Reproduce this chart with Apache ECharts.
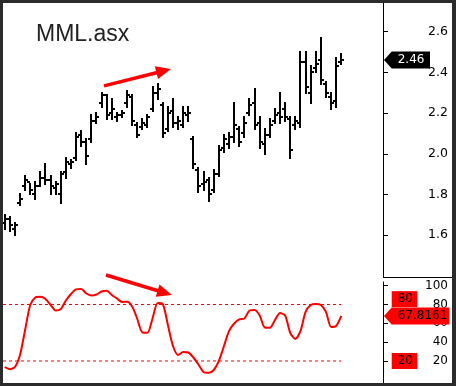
<!DOCTYPE html>
<html>
<head>
<meta charset="utf-8">
<script src="https://cdn.jsdelivr.net/npm/echarts@6/dist/echarts.min.js"></script>
<style>
html,body{margin:0;padding:0;background:#2b2b2b;width:456px;height:386px;overflow:hidden;}
#chart{position:absolute;left:3px;top:3px;width:449px;height:380px;background:#ffffff;}
</style>
</head>
<body>
<div id="chart"></div>
<script>
// ---- data ----
var ticker = 'MML.asx';
var opens  = [1.66,1.68,1.63,1.76,1.84,1.86,1.80,1.84,1.88,1.87,1.83,1.80,1.91,1.95,1.98,2.09,2.06,2.07,2.16,2.25,2.29,2.20,2.18,2.19,2.25,2.28,2.14,2.13,2.14,2.22,2.30,2.24,2.12,2.21,2.15,2.14,2.19,2.07,1.92,1.85,1.87,1.82,1.90,2.03,2.05,2.08,2.12,2.10,2.20,2.25,2.15,2.05,2.09,2.16,2.20,2.22,2.17,2.14,2.15,2.45,2.30,2.42,2.46,2.34,2.28,2.26,2.45];
var highs  = [1.70,1.69,1.66,1.80,1.89,1.85,1.86,1.91,1.95,1.89,1.86,1.91,1.98,1.97,2.10,2.11,2.07,2.19,2.20,2.30,2.29,2.27,2.20,2.21,2.31,2.29,2.15,2.17,2.19,2.33,2.34,2.25,2.23,2.27,2.18,2.23,2.23,2.08,1.93,1.91,1.88,1.92,2.04,2.09,2.10,2.25,2.13,2.18,2.27,2.32,2.18,2.12,2.17,2.22,2.30,2.25,2.18,2.18,2.50,2.50,2.43,2.50,2.57,2.35,2.30,2.47,2.49];
var lows   = [1.63,1.62,1.60,1.75,1.82,1.80,1.78,1.84,1.85,1.80,1.80,1.76,1.88,1.93,1.97,2.04,1.95,2.06,2.15,2.23,2.17,2.17,2.16,2.18,2.23,2.14,2.08,2.12,2.13,2.21,2.27,2.08,2.11,2.13,2.12,2.13,2.16,1.93,1.81,1.82,1.77,1.81,1.89,2.01,2.03,2.06,2.04,2.08,2.19,2.12,2.03,2.00,2.08,2.15,2.15,2.16,1.98,2.12,2.13,2.30,2.25,2.40,2.34,2.28,2.22,2.23,2.44];
var closes = [1.68,1.65,1.65,1.78,1.87,1.82,1.84,1.88,1.87,1.84,1.85,1.90,1.96,1.96,2.08,2.06,1.99,2.16,2.18,2.29,2.19,2.22,2.19,2.20,2.29,2.16,2.09,2.15,2.18,2.30,2.32,2.10,2.20,2.15,2.16,2.20,2.20,1.95,1.84,1.86,1.80,1.90,2.02,2.07,2.08,2.14,2.06,2.15,2.24,2.14,2.06,2.09,2.14,2.19,2.18,2.18,2.02,2.16,2.45,2.33,2.40,2.44,2.36,2.30,2.25,2.43,2.46];
var oscValues = [13.6,11.2,13.6,26.4,52.9,79.5,87.5,88.3,85.9,79.5,73.6,75.2,84.3,91.2,96.0,96.5,91.7,89.6,90.6,93.8,94.7,90.1,86.4,82.7,83.0,77.9,64.6,50.3,50.1,65.4,81.6,80.6,58.2,35.9,26.4,29.5,29.0,23.7,16.3,8.3,7.5,10.4,20.0,35.9,51.9,59.8,64.1,65.1,73.6,74.2,68.3,55.6,55.4,63.5,71.0,68.3,49.7,43.4,51.9,72.1,79.5,80.6,79.5,72.1,56.1,57.2,67.8161];
var lastPrice = 2.46;
var lastOsc = 67.8161;
var priceTicks = [1.6,1.8,2.0,2.2,2.4,2.6];
var oscTicks = [20,40,60,80,100];
var oscLevels = [80,20];
// annotation arrows in data space: [x, y] start -> tip
var priceArrow = [[19.47,2.333],[32.6,2.416]];
var oscArrow = [[19.86,111.3],[32.8,90.1]];

// ---- build ----
var ohlc = opens.map(function(o,i){ return [i, o, highs[i], lows[i], closes[i]]; });
var osc = oscValues.map(function(v,i){ return [i, v]; });
var xMin = -0.333, xMax = 74.18;
var lastIdx = opens.length - 1;

var chart = echarts.init(document.getElementById('chart'));
var axisFont = 'DejaVu Sans';

function yAx(grid, min, max, ticks, fmt, fs){
  return {
    type:'value', gridIndex:grid, position:'right', min:min, max:max,
    axisLine:{show:true, onZero:false, lineStyle:{color:'#000', width:1}},
    axisTick:{show:true, length:5, customValues:ticks, lineStyle:{color:'#000'}},
    axisLabel:{show:true, customValues:ticks, formatter:fmt, align:'right', margin:65,
      color:'#000', fontSize:fs, fontFamily:axisFont},
    splitLine:{show:false}
  };
}

var option = {
  animation:false,
  backgroundColor:'#ffffff',
  title:{text:ticker, left:33, top:20, padding:0,
    textStyle:{fontFamily:'Liberation Sans', fontSize:23, fontWeight:'normal', color:'#222'}},
  grid:[
    {left:0, top:0, width:380, height:274},
    {left:0, top:279, width:380, height:101}
  ],
  xAxis:[
    {type:'value', gridIndex:0, min:xMin, max:xMax, show:false},
    {type:'value', gridIndex:1, min:xMin, max:xMax, show:false}
  ],
  yAxis:[
    yAx(0, 1.395, 2.74, priceTicks, function(v){return v.toFixed(1);}, 12.5),
    yAx(1, -3.4, 103.9, oscTicks, function(v){return String(Math.round(v));}, 12)
  ],
  series:[
    {
      type:'custom', xAxisIndex:0, yAxisIndex:0, data:ohlc,
      encode:{x:0, y:[1,2,3,4]},
      renderItem:function(params, api){
        var x = api.value(0);
        var o = api.coord([x, api.value(1)]);
        var h = api.coord([x, api.value(2)]);
        var l = api.coord([x, api.value(3)]);
        var c = api.coord([x, api.value(4)]);
        var cx = Math.round(o[0]);
        var st = {stroke:'#000', lineWidth:2};
        return {type:'group', children:[
          {type:'line', shape:{x1:cx, y1:Math.round(h[1])-1, x2:cx, y2:Math.round(l[1])+1}, style:st},
          {type:'line', shape:{x1:cx-3, y1:Math.round(o[1]), x2:cx, y2:Math.round(o[1])}, style:st},
          {type:'line', shape:{x1:cx, y1:Math.round(c[1]), x2:cx+3, y2:Math.round(c[1])}, style:st}
        ]};
      }
    },
    {
      type:'line', xAxisIndex:1, yAxisIndex:1, data:osc, symbol:'none', smooth:0.25,
      lineStyle:{color:'#ff0000', width:2}
    }
  ].concat(oscLevels.map(function(lv){
    return {type:'line', xAxisIndex:1, yAxisIndex:1, symbol:'none', silent:true,
      data:[[xMin, lv],[lastIdx, lv]],
      lineStyle:{color:'#ff0000', width:1, type:[3,3]}};
  }))
};
chart.setOption(option);

// ---- overlay labels and annotations ----
function arrow(p0, p1){
  var dx = p1[0]-p0[0], dy = p1[1]-p0[1];
  var len = Math.sqrt(dx*dx+dy*dy); dx/=len; dy/=len;
  var hl = 15, hw = 6.5;
  var bx = p1[0]-dx*hl, by = p1[1]-dy*hl;
  var nx = -dy, ny = dx;
  return [
    {type:'line', shape:{x1:p0[0], y1:p0[1], x2:bx+dx*2, y2:by+dy*2}, style:{stroke:'#ff0000', lineWidth:3.5}, z:100},
    {type:'polygon', shape:{points:[[p1[0],p1[1]],[bx+nx*hw,by+ny*hw],[bx-nx*hw,by-ny*hw]]}, style:{fill:'#ff0000'}, z:100}
  ];
}
function pointerLabel(y, right, fill, text, color){
  var tip = 381, base = 388.7, hh = 8.5;
  return [
    {type:'polygon', shape:{points:[[tip,y],[base,y-hh],[right,y-hh],[right,y+hh],[base,y+hh]]}, style:{fill:fill}, z:110},
    {type:'text', x:394.7, y:y, style:{text:text, fill:color, font:'12px "DejaVu Sans"', verticalAlign:'middle', align:'left'}, z:111}
  ];
}
function boxLabel(cy, text){
  return [
    {type:'rect', shape:{x:388.7, y:cy-8, width:25.6, height:16}, style:{fill:'#ff0000'}, z:105},
    {type:'text', x:394.7, y:cy, style:{text:text, fill:'#000', font:'12px "DejaVu Sans"', verticalAlign:'middle', align:'left'}, z:106}
  ];
}
var g = [];
g = g.concat(arrow(chart.convertToPixel({gridIndex:0}, priceArrow[0]), chart.convertToPixel({gridIndex:0}, priceArrow[1])));
g = g.concat(arrow(chart.convertToPixel({gridIndex:1}, oscArrow[0]), chart.convertToPixel({gridIndex:1}, oscArrow[1])));
var yPrice = chart.convertToPixel({yAxisIndex:0}, lastPrice);
var yOsc = chart.convertToPixel({yAxisIndex:1}, lastOsc);
var oscTop = yOsc - 8.8;
oscLevels.forEach(function(lv){
  var cy = chart.convertToPixel({yAxisIndex:1}, lv);
  if (cy + 8 > oscTop && cy - 8 < yOsc + 8.8) { cy = oscTop - 8; }
  g = g.concat(boxLabel(cy, String(lv)));
});
g = g.concat(pointerLabel(yPrice, 427, '#000', lastPrice.toFixed(2), '#fff'));
g = g.concat(pointerLabel(yOsc, 446.3, '#ff0000', String(lastOsc), '#000'));
g.push({type:'line', shape:{x1:380, y1:274.5, x2:449, y2:274.5}, style:{stroke:'#000', lineWidth:1}, z:50});
chart.setOption({graphic:g});
</script>
</body>
</html>
